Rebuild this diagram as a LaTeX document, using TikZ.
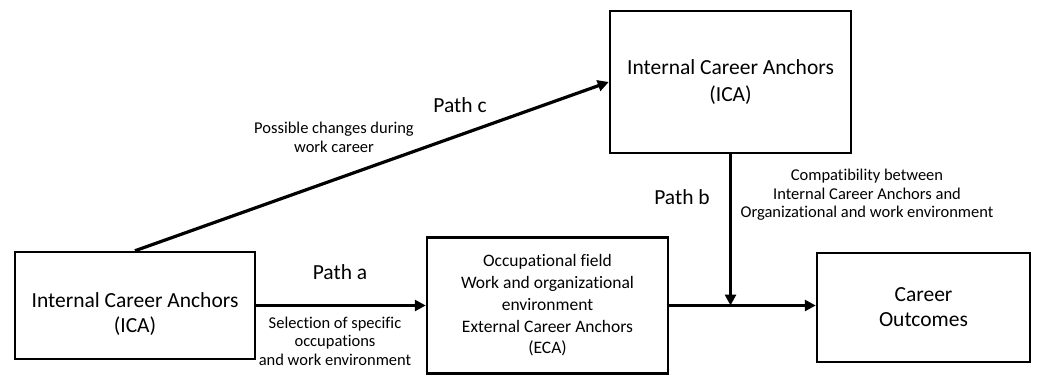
\documentclass[tikz,border=0pt]{standalone}
\usepackage{fontspec}
\setmainfont{Carlito}[Ligatures=NoCommon]
\usetikzlibrary{arrows.meta}

\tikzset{
  anchorbox/.style={draw,line width=2.5pt,align=center,inner sep=0pt,
    font=\fontsize{21.5}{25}\selectfont},
  pathlabel/.style={font=\fontsize{21.5}{25}\selectfont},
  note/.style={align=center,font=\fontsize{16.5}{18.5}\selectfont},
  link/.style={line width=3.2pt,-{Triangle[length=11pt,width=11pt]}}
}

\begin{document}
\begin{tikzpicture}[x=1pt,y=1pt]
    \useasboundingbox (0,0) rectangle (1040,376);
    % boxes
    \node[anchorbox,minimum width=240pt,minimum height=107pt,
      label={[anchorbox,draw=none,yshift=-9pt]center:{Internal Career Anchors\\(ICA)}}]
      (icaL) at (135,70.5) {};
    \node[anchorbox,minimum width=241pt,minimum height=136pt,
      font=\fontsize{17.5}{21.75}\selectfont] (env) at (547.5,70.5)
      {Occupational field\\Work and organizational\\environment\\External Career Anchors\\(ECA)};
    \node[anchorbox,minimum width=241pt,minimum height=142pt,
      font=\fontsize{21.5}{27}\selectfont] (icaT) at (730.5,294)
      {Internal Career Anchors\\(ICA)};
    \node[anchorbox,minimum width=213pt,minimum height=109pt] (outc) at (923.5,68.5)
      {Career\\Outcomes};
    % connectors
    \coordinate (meet) at (icaT.south |- env.east);
    \draw[link] (icaL.east) -- (icaL.east -| env.west);
    \draw[link] (env.east) -- (env.east -| outc.west);
    \draw[link] (icaT.south) -- (meet);
    \draw[link] (icaL.north) -- (icaT.west);
    % labels
    \node[pathlabel] (pa) at (340,104) {Path a};
    \node[note] (sel) at (335,35) {Selection of specific\\occupations\\and work environment};
    \node[pathlabel] (pc) at (460,271) {Path c};
    \node[note] (chg) at (334,238.5) {Possible changes during\\work career};
    \node[pathlabel] (pb) at (682,179) {Path b};
    \node[note] (cmp) at (867,181) {Compatibility between\\Internal Career Anchors and\\Organizational and work environment};
\end{tikzpicture}
\end{document}
